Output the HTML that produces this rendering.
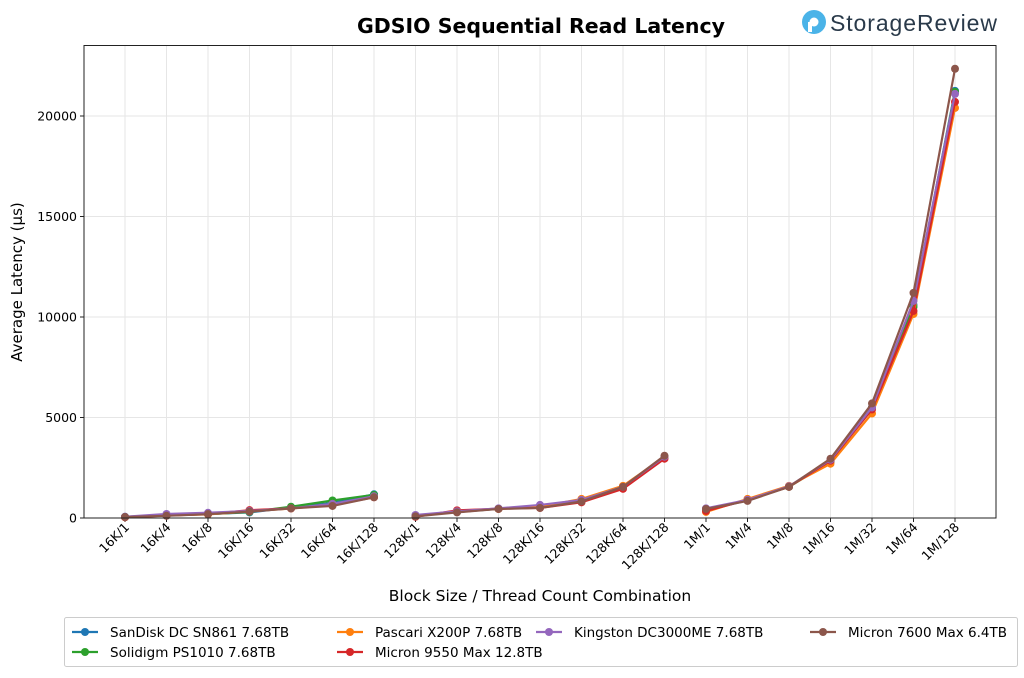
<!DOCTYPE html><html><head><meta charset="utf-8"><style>
body{margin:0;background:#fff;font-family:"DejaVu Sans","Liberation Sans",sans-serif}
</style></head><body>
<svg id="s" width="1024" height="674" xmlns="http://www.w3.org/2000/svg" font-family="DejaVu Sans, Liberation Sans, sans-serif">
<text x="541" y="33" text-anchor="middle" font-size="20.5" font-weight="bold">GDSIO Sequential Read Latency</text>
<circle cx="814" cy="22" r="12" fill="#4ab3e8"/><circle cx="814" cy="22" r="4.5" fill="#fff"/><rect x="808" y="22" width="4" height="10" fill="#fff"/>
<text x="830" y="31" font-size="23" fill="#2a3a4a" font-family="Liberation Sans, sans-serif" textLength="167" font-weight="500">StorageReview</text>
<g id="g"></g>
<rect x="84" y="45.5" width="912" height="472.5" fill="none" stroke="#222" stroke-width="1"/>
<text transform="translate(22,282) rotate(-90)" text-anchor="middle" font-size="15">Average Latency (µs)</text>
<text x="540" y="601" text-anchor="middle" font-size="15.5">Block Size / Thread Count Combination</text>
<rect x="64.5" y="617.5" width="953" height="49" fill="#fff" stroke="#ccc" rx="2"/>
<g id="lg" font-size="13.5"></g>
</svg>
<script>
const g=document.getElementById('g'),lg=document.getElementById('lg');
const NS='http://www.w3.org/2000/svg';
function el(t,a,p,txt){const e=document.createElementNS(NS,t);for(const k in a)e.setAttribute(k,a[k]);if(txt)e.textContent=txt;(p||g).appendChild(e);return e;}
const X=i=>125+i*41.5, Y=v=>518-v*0.0201;
const labs=[];['16K','128K','1M'].forEach(b=>[1,4,8,16,32,64,128].forEach(t=>labs.push(b+'/'+t)));
for(let i=0;i<21;i++){el('line',{x1:X(i),x2:X(i),y1:46,y2:518,stroke:'#e6e6e6'});
 el('line',{x1:X(i),x2:X(i),y1:518,y2:522,stroke:'#222'});
 el('text',{x:0,y:0,'font-size':12.5,'text-anchor':'end',transform:`translate(${X(i)+5},${528}) rotate(-45)`},g,labs[i]);}
for(let v=0;v<=20000;v+=5000){el('line',{x1:84,x2:996,y1:Y(v),y2:Y(v),stroke:'#e6e6e6'});
 el('line',{x1:80,x2:84,y1:Y(v),y2:Y(v),stroke:'#222'});
 el('text',{x:77,y:Y(v)+4.5,'font-size':12.5,'text-anchor':'end'},g,String(v));}
const S=[
['#1f77b4',[60,150,200,280,520,750,1180],[120,300,460,600,880,1500,3050],[380,880,1560,2850,5500,10600,21250]],
['#2ca02c',[50,140,190,300,560,870,1150],[100,300,460,580,860,1500,3000],[400,900,1550,2800,5500,10500,21200]],
['#ff7f0e',[40,130,180,330,470,700,1050],[110,330,450,560,950,1600,3050],[300,950,1600,2700,5200,10150,20400]],
['#d62728',[40,120,200,390,480,640,1030],[60,380,460,500,780,1450,2950],[350,900,1550,2850,5400,10300,20700]],
['#9467bd',[60,200,260,350,480,700,1080],[150,330,480,650,900,1550,3050],[480,900,1580,2900,5500,10800,21100]],
['#8c564b',[50,110,190,320,480,600,1030],[80,280,450,500,820,1550,3100],[450,850,1550,2950,5700,11200,22350]]];
S.forEach(([c,...gr])=>gr.forEach((d,gi)=>{const pts=d.map((v,j)=>[X(gi*7+j),Y(v)]);
 el('polyline',{points:pts.map(p=>p.join(',')).join(' '),fill:'none',stroke:c,'stroke-width':2.2});
 pts.forEach(p=>el('circle',{cx:p[0],cy:p[1],r:4,fill:c}));}));
const L=[['#1f77b4','SanDisk DC SN861 7.68TB',72,632],['#2ca02c','Solidigm PS1010 7.68TB',72,652],
['#ff7f0e','Pascari X200P 7.68TB',337,632],['#d62728','Micron 9550 Max 12.8TB',337,652],
['#9467bd','Kingston DC3000ME 7.68TB',536,632],['#8c564b','Micron 7600 Max 6.4TB',810,632]];
L.forEach(([c,t,x,y])=>{el('line',{x1:x,x2:x+26,y1:y,y2:y,stroke:c,'stroke-width':2.2},lg);
 el('circle',{cx:x+13,cy:y,r:4,fill:c},lg);el('text',{x:x+38,y:y+5},lg,t);});
</script></body></html>
